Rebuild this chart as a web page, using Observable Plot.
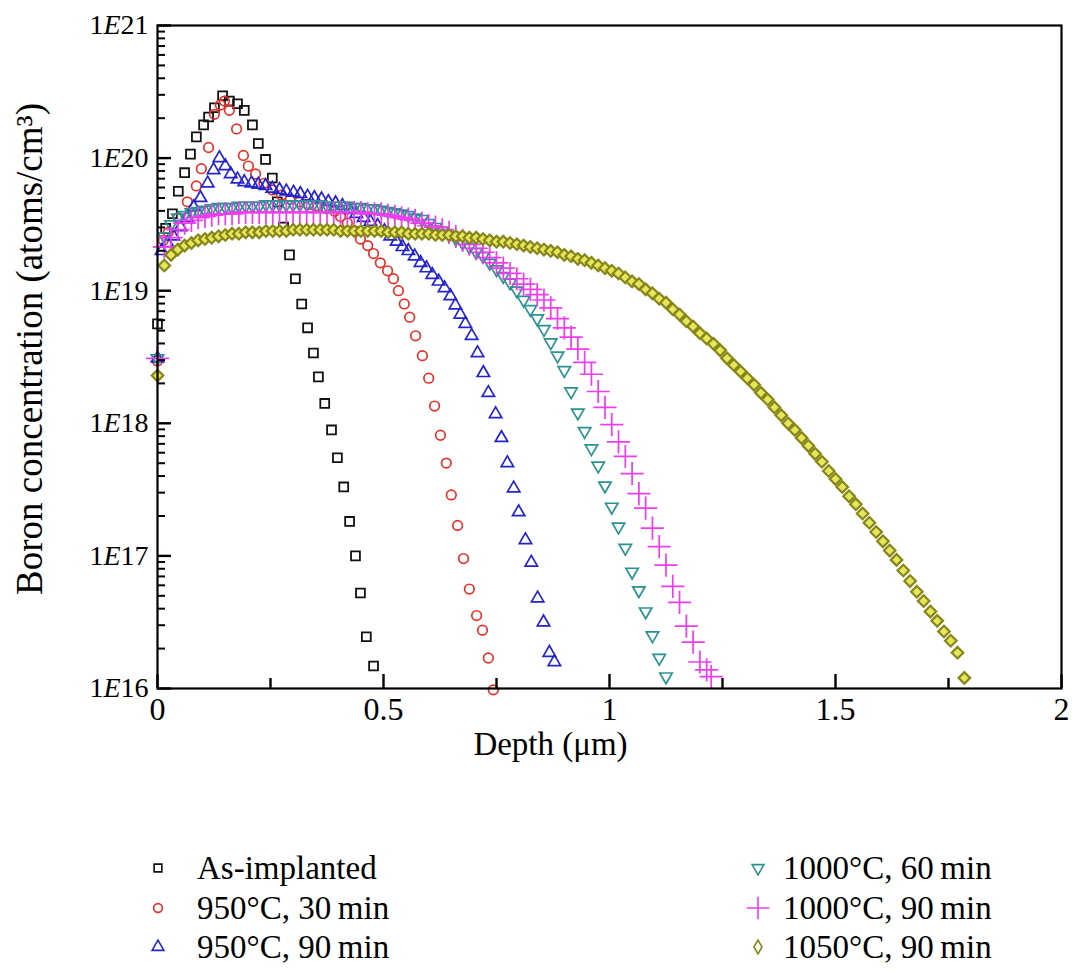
<!DOCTYPE html>
<html><head><meta charset="utf-8">
<script src="https://cdn.jsdelivr.net/npm/d3@7"></script>
<script src="https://cdn.jsdelivr.net/npm/@observablehq/plot@0.6"></script>
<style>
html,body{margin:0;padding:0;background:#fff;}
#wrap{position:relative;width:1072px;height:974px;font-family:"Liberation Serif","Times New Roman",serif;color:#000;overflow:hidden;}
#chart svg{display:block;}
.legsym{position:absolute;overflow:visible;}
.legtxt{position:absolute;font-size:33px;line-height:36px;white-space:nowrap;transform:translateY(-50%);}
</style></head><body><div id="wrap"><div id="chart"></div></div>
<script>
// ---- data: [depth (µm), log10 boron concentration (atoms/cm3)] ----
const asImplanted = [[0,18.75],[0.018,19.47],[0.033,19.58],[0.046,19.75],[0.060,19.89],[0.073,20.03],[0.086,20.16],[0.102,20.25],[0.113,20.31],[0.126,20.38],
[0.144,20.47],[0.159,20.43],[0.177,20.41],[0.192,20.36],[0.210,20.25],[0.223,20.11],[0.239,19.99],[0.254,19.85],[0.265,19.67],[0.279,19.48],
[0.292,19.27],[0.305,19.09],[0.319,18.90],[0.332,18.72],[0.345,18.53],[0.356,18.35],[0.370,18.15],[0.385,17.95],[0.398,17.74],[0.412,17.52],
[0.425,17.26],[0.438,17.00],[0.449,16.72],[0.462,16.39],[0.478,16.17]];

const c950_30 = [[0,18.47],[0.013,19.38],[0.024,19.44],[0.046,19.55],[0.066,19.67],[0.086,19.79],[0.097,19.92],[0.113,20.08],[0.126,20.33],[0.139,20.40],
[0.148,20.43],[0.159,20.36],[0.175,20.22],[0.190,20.02],[0.201,19.94],[0.217,19.88],[0.235,19.81],[0.254,19.76],[0.274,19.72],[0.294,19.69],
[0.314,19.67],[0.334,19.65],[0.354,19.64],[0.374,19.62],[0.392,19.60],[0.405,19.56],[0.420,19.51],[0.438,19.45],[0.449,19.39],[0.465,19.34],
[0.478,19.28],[0.493,19.21],[0.509,19.15],[0.522,19.09],[0.533,19.00],[0.546,18.90],[0.558,18.80],[0.571,18.66],[0.586,18.51],[0.600,18.34],
[0.613,18.13],[0.626,17.91],[0.639,17.70],[0.650,17.46],[0.664,17.23],[0.677,16.98],[0.690,16.75],[0.706,16.55],[0.719,16.44],[0.732,16.23],[0.743,15.99]];

const c950_90 = [[0,18.49],[0.009,19.30],[0.022,19.36],[0.035,19.41],[0.051,19.48],[0.066,19.55],[0.080,19.63],[0.095,19.70],[0.111,19.81],[0.124,19.91],
[0.137,20.00],[0.150,19.94],[0.162,19.88],[0.177,19.84],[0.192,19.82],[0.208,19.81],[0.223,19.80],[0.239,19.79],[0.254,19.77],[0.270,19.76],
[0.285,19.75],[0.301,19.74],[0.316,19.73],[0.332,19.71],[0.347,19.70],[0.363,19.69],[0.378,19.67],[0.394,19.66],[0.409,19.64],[0.425,19.61],
[0.440,19.58],[0.456,19.55],[0.471,19.52],[0.487,19.49],[0.502,19.45],[0.515,19.41],[0.529,19.37],[0.542,19.33],[0.555,19.30],[0.569,19.26],
[0.582,19.21],[0.595,19.17],[0.608,19.12],[0.622,19.07],[0.635,19.02],[0.648,18.96],[0.659,18.89],[0.670,18.82],[0.681,18.75],[0.695,18.66],
[0.708,18.53],[0.721,18.38],[0.732,18.23],[0.748,18.07],[0.761,17.89],[0.774,17.70],[0.788,17.51],[0.799,17.33],[0.814,17.12],[0.827,16.95],
[0.841,16.68],[0.854,16.50],[0.867,16.27],[0.878,16.20]];

const c1000_60 = [[0.000,18.49],[0.015,19.41],[0.030,19.50],[0.045,19.55],[0.060,19.57],[0.075,19.59],[0.090,19.60],[0.105,19.61],[0.120,19.62],[0.135,19.63],
[0.150,19.63],[0.165,19.63],[0.180,19.64],[0.195,19.64],[0.210,19.64],[0.225,19.64],[0.240,19.65],[0.255,19.65],[0.270,19.65],[0.285,19.65],
[0.300,19.65],[0.315,19.65],[0.330,19.65],[0.345,19.65],[0.360,19.65],[0.375,19.64],[0.390,19.64],[0.405,19.64],[0.420,19.64],[0.435,19.63],
[0.450,19.63],[0.465,19.62],[0.480,19.62],[0.495,19.61],[0.510,19.60],[0.525,19.59],[0.540,19.58],[0.555,19.57],[0.570,19.55],[0.585,19.54],
[0.600,19.51],[0.615,19.48],[0.630,19.45],[0.645,19.42],[0.660,19.39],[0.675,19.36],[0.690,19.33],[0.705,19.29],[0.720,19.26],[0.735,19.21],
[0.750,19.16],[0.765,19.11],[0.780,19.06],[0.795,19.00],[0.810,18.93],[0.825,18.86],[0.840,18.79],[0.855,18.71],[0.870,18.61],[0.885,18.51],
[0.900,18.40],[0.915,18.24],[0.930,18.08],[0.945,17.94],[0.960,17.81],[0.975,17.68],[0.990,17.53],[1.005,17.37],[1.020,17.22],[1.035,17.06],
[1.050,16.88],[1.065,16.74],[1.080,16.58],[1.095,16.40],[1.110,16.23],[1.125,16.09]];

const c1000_90 = [[0.000,18.49],[0.015,19.33],[0.030,19.40],[0.045,19.46],[0.060,19.51],[0.075,19.53],[0.090,19.55],[0.105,19.56],[0.120,19.57],[0.135,19.58],
[0.150,19.58],[0.165,19.58],[0.180,19.59],[0.195,19.59],[0.210,19.59],[0.225,19.59],[0.240,19.59],[0.255,19.59],[0.270,19.59],[0.285,19.59],
[0.300,19.59],[0.315,19.59],[0.330,19.59],[0.345,19.59],[0.360,19.59],[0.375,19.59],[0.390,19.59],[0.405,19.59],[0.420,19.59],[0.435,19.59],
[0.450,19.59],[0.465,19.58],[0.480,19.58],[0.495,19.58],[0.510,19.57],[0.525,19.56],[0.540,19.55],[0.555,19.54],[0.570,19.53],[0.585,19.51],
[0.600,19.49],[0.615,19.48],[0.630,19.46],[0.645,19.44],[0.660,19.41],[0.675,19.38],[0.690,19.35],[0.705,19.32],[0.720,19.29],[0.735,19.25],
[0.750,19.21],[0.765,19.17],[0.780,19.13],[0.795,19.09],[0.810,19.05],[0.825,19.01],[0.840,18.97],[0.855,18.93],[0.870,18.87],[0.885,18.79],
[0.900,18.72],[0.915,18.65],[0.930,18.56],[0.945,18.46],[0.960,18.37],[0.975,18.24],[0.990,18.12],[1.005,17.99],[1.020,17.86],[1.035,17.75],
[1.050,17.62],[1.065,17.47],[1.080,17.36],[1.095,17.21],[1.110,17.07],[1.125,16.93],[1.140,16.77],[1.155,16.65],[1.170,16.47],[1.185,16.35],
[1.200,16.20],[1.215,16.14],[1.225,16.09]];

const c1050_90 = [[0.000,18.36],[0.015,19.19],[0.030,19.27],[0.045,19.31],[0.060,19.34],[0.075,19.36],[0.090,19.38],[0.105,19.39],[0.120,19.40],[0.135,19.41],
[0.150,19.42],[0.165,19.43],[0.180,19.43],[0.195,19.44],[0.210,19.44],[0.225,19.44],[0.240,19.45],[0.255,19.45],[0.270,19.45],[0.285,19.45],
[0.300,19.46],[0.315,19.46],[0.330,19.46],[0.345,19.46],[0.360,19.46],[0.375,19.46],[0.390,19.46],[0.405,19.45],[0.420,19.45],[0.435,19.45],
[0.450,19.45],[0.465,19.45],[0.480,19.45],[0.495,19.45],[0.510,19.44],[0.525,19.44],[0.540,19.44],[0.555,19.43],[0.570,19.43],[0.585,19.43],
[0.600,19.43],[0.615,19.42],[0.630,19.42],[0.645,19.42],[0.660,19.41],[0.675,19.41],[0.690,19.40],[0.705,19.40],[0.720,19.39],[0.735,19.38],
[0.750,19.37],[0.765,19.37],[0.780,19.36],[0.795,19.35],[0.810,19.34],[0.825,19.33],[0.840,19.32],[0.855,19.31],[0.870,19.30],[0.885,19.29],
[0.900,19.27],[0.915,19.26],[0.930,19.24],[0.945,19.23],[0.960,19.21],[0.975,19.19],[0.990,19.17],[1.005,19.15],[1.020,19.13],[1.035,19.10],
[1.050,19.07],[1.065,19.05],[1.080,19.01],[1.095,18.98],[1.110,18.94],[1.125,18.91],[1.140,18.86],[1.155,18.82],[1.170,18.77],[1.185,18.73],
[1.200,18.68],[1.215,18.64],[1.230,18.60],[1.245,18.55],[1.260,18.49],[1.275,18.44],[1.290,18.39],[1.305,18.34],[1.320,18.29],[1.335,18.23],
[1.350,18.18],[1.365,18.12],[1.380,18.06],[1.395,18.00],[1.410,17.95],[1.425,17.89],[1.440,17.83],[1.455,17.77],[1.470,17.71],[1.485,17.64],
[1.500,17.58],[1.515,17.52],[1.530,17.45],[1.545,17.39],[1.560,17.32],[1.575,17.25],[1.590,17.18],[1.605,17.11],[1.620,17.04],[1.635,16.97],
[1.650,16.89],[1.665,16.81],[1.680,16.73],[1.695,16.66],[1.710,16.58],[1.725,16.51],[1.740,16.43],[1.755,16.36],[1.770,16.27],[1.785,16.08]];

const seriesNames = ["As-implanted", "950°C, 30\u2009min", "950°C, 90\u2009min", "1000°C, 60\u2009min", "1000°C, 90\u2009min", "1050°C, 90\u2009min"];
const xTicks = [0, 0.5, 1, 1.5, 2];
const xTickLabels = ["0", "0.5", "1", "1.5", "2"];
const xMinorTicks = [0.25, 0.75, 1.25, 1.75];
const yTicks = [1e16, 1e17, 1e18, 1e19, 1e20, 1e21];
const yTickLabels = ["1E16", "1E17", "1E18", "1E19", "1E20", "1E21"];
const xTitle = "Depth (μm)";
const yTitle = "Boron concentration (atoms/cm³)";

// ---- styles ----
const styles = [
  {data: asImplanted, symbol: "square", r: 5, stroke: "#111111", fill: "none", sw: 1.8, rotate: 0, leg: d3.symbolSquare, legSize: 60},
  {data: c950_30, symbol: "circle", r: 4.8, stroke: "#e3322c", fill: "none", sw: 1.7, rotate: 0, leg: d3.symbolCircle, legSize: 60},
  {data: c950_90, symbol: "triangle", r: 4.6, stroke: "#2424cc", fill: "none", sw: 1.7, rotate: 0, leg: d3.symbolTriangle, legSize: 60},
  {data: c1000_60, symbol: "triangle", r: 4.6, stroke: "#2a9292", fill: "none", sw: 1.7, rotate: 180, leg: d3.symbolTriangle, legSize: 60},
  {data: c1000_90, symbol: "plus", r: 7.5, stroke: "#ef3cef", fill: "none", sw: 1.7, rotate: 0, leg: d3.symbolPlus, legSize: 170},
  {data: c1050_90, symbol: "diamond2", r: 5.2, stroke: "#86861a", fill: "#e6e65a", sw: 2.2, rotate: 0, leg: d3.symbolDiamond, legSize: 55}
];

const W = 1072, H = 790, mL = 157, mR = 11, mT = 25, mB = 102;
const plotW = W - mL - mR, plotH = H - mT - mB;
const xDomain = [0, 2], yDomain = [1e16, 1e21];
const rows = (pairs) => pairs.map(([d, lg]) => ({depth: d, conc: Math.pow(10, lg)}));
const xLab = new Map(xTicks.map((t, i) => [t, xTickLabels[i]]));
const yLab = new Map(yTicks.map((t, i) => [t, yTickLabels[i]]));
const yMinorTicks = [];
for (let e = 16; e < 21; e++) for (let m = 2; m <= 9; m++) yMinorTicks.push(m * Math.pow(10, e));

// tick lengths in pixels, expressed in each scale's units so rule marks can draw them
const decades = Math.log10(yDomain[1] / yDomain[0]);
const yUp = (px) => yDomain[0] * Math.pow(10, px * decades / plotH);
const xIn = (px) => xDomain[0] + px * (xDomain[1] - xDomain[0]) / plotW;

const chart = Plot.plot({
  width: W, height: H,
  marginLeft: mL, marginRight: mR, marginTop: mT, marginBottom: mB,
  style: {fontFamily: "'Liberation Serif','Times New Roman',serif", fontSize: "28px", background: "#fff", color: "#000", overflow: "visible"},
  x: {domain: xDomain},
  y: {type: "log", domain: yDomain},
  marks: [
    Plot.axisX({ticks: xTicks, tickSize: 0, tickPadding: 9, stroke: "none", tickFormat: d => xLab.get(d), fontSize: 32, label: null}),
    Plot.axisY({ticks: yTicks, tickSize: 0, tickPadding: 9, stroke: "none", tickFormat: d => yLab.get(d), fontSize: 28, label: null}),
    ...styles.map(s => Plot.dot(rows(s.data), {x: "depth", y: "conc", symbol: s.symbol, r: s.r, stroke: s.stroke, fill: s.fill, strokeWidth: s.sw, rotate: s.rotate})),
    // inward ticks
    Plot.ruleX(xMinorTicks, {x: d => d, y1: yDomain[0], y2: yUp(10), stroke: "#000", strokeWidth: 2.4}),
    Plot.ruleX(xTicks, {x: d => d, y1: yDomain[0], y2: yUp(14), stroke: "#000", strokeWidth: 2.4}),
    Plot.ruleY(yMinorTicks, {y: d => d, x1: xDomain[0], x2: xIn(8), stroke: "#000", strokeWidth: 2}),
    Plot.ruleY(yTicks, {y: d => d, x1: xDomain[0], x2: xIn(14), stroke: "#000", strokeWidth: 2.4}),
    Plot.frame({stroke: "#000", strokeWidth: 2.2}),
    Plot.text([xTitle], {text: d => d, frameAnchor: "bottom", dx: -59, dy: 66, fontSize: 33, ariaLabel: "x-title"}),
    Plot.text([yTitle], {text: d => d, frameAnchor: "left", textAnchor: "middle", rotate: -90, dx: -127, dy: -8, fontSize: 37, ariaLabel: "y-title"})
  ]
});
document.getElementById("chart").appendChild(chart);

// italic E in tick labels, italic μ in the axis title
const NS = "http://www.w3.org/2000/svg";
function rich(textEl, parts) {
  textEl.textContent = "";
  for (const [s, it] of parts) {
    const t = document.createElementNS(NS, "tspan");
    t.textContent = s;
    if (it) t.setAttribute("font-style", "italic");
    textEl.appendChild(t);
  }
}
chart.querySelectorAll('[aria-label="y-axis tick label"] text').forEach(t => {
  const s = t.textContent;
  const k = s.indexOf("E");
  if (k >= 0) rich(t, [[s.slice(0, k), false], ["E", true], [s.slice(k + 1), false]]);
});
chart.querySelectorAll('[aria-label="x-title"] text').forEach(t => {
  const s = t.textContent; const k = s.indexOf("μ");
  if (k >= 0) rich(t, [[s.slice(0, k), false], ["μ", true], [s.slice(k + 1), false]]);
});

// ---- legend ----
const wrap = document.getElementById("wrap");
const legendRows = [868, 908, 947];
const legendCols = [{sym: 158, txt: 197}, {sym: 758, txt: 783}];
styles.forEach((s, i) => {
  const col = legendCols[Math.floor(i / 3)], row = legendRows[i % 3];
  const svg = d3.select(wrap).append("svg").attr("class", "legsym")
    .attr("width", 24).attr("height", 24)
    .style("left", (col.sym - 12) + "px").style("top", (row - 12) + "px");
  svg.append("path")
    .attr("d", d3.symbol().type(s.leg).size(s.legSize)())
    .attr("transform", `translate(12,12) rotate(${s.rotate})`)
    .attr("fill", "none").attr("stroke", s.stroke).attr("stroke-width", 1.6);
  d3.select(wrap).append("div").attr("class", "legtxt")
    .style("left", col.txt + "px").style("top", row + "px").text(seriesNames[i]);
});
</script></body></html>
